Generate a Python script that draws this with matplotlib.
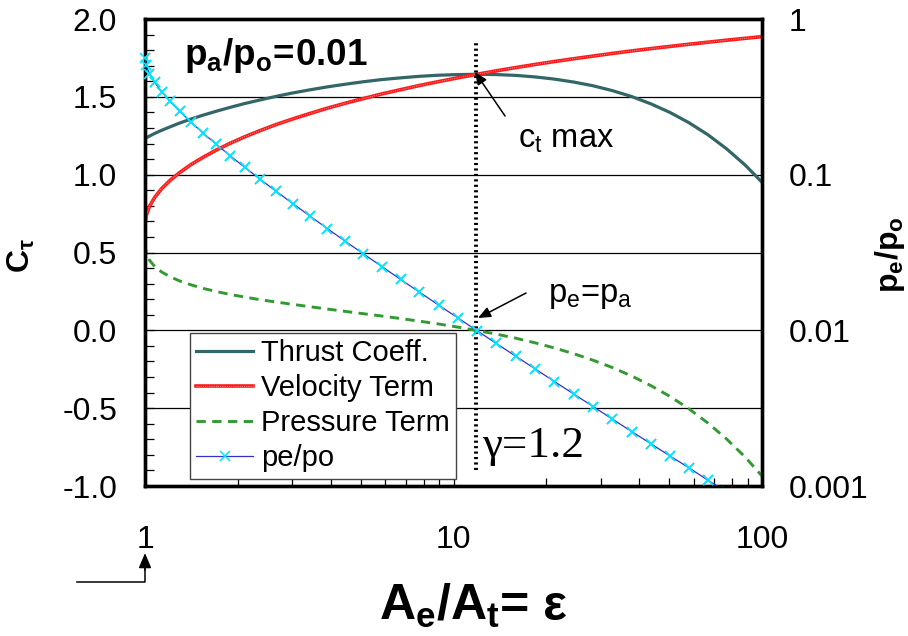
import numpy as np
import matplotlib
matplotlib.use("Agg")
import matplotlib.pyplot as plt
from matplotlib.ticker import MultipleLocator, LogLocator, NullLocator, FixedLocator, FixedFormatter, NullFormatter
from matplotlib.legend_handler import HandlerTuple
from matplotlib.lines import Line2D

plt.rcParams['font.family'] = ['Liberation Sans', 'DejaVu Sans']
plt.rcParams['mathtext.fontset'] = 'custom'
plt.rcParams['mathtext.rm'] = 'Liberation Sans'
plt.rcParams['mathtext.it'] = 'Liberation Sans:italic'
plt.rcParams['mathtext.bf'] = 'Liberation Sans:bold'

# Nozzle expansion ratio and the resulting terms (gamma = 1.2, pa/po = 0.01)
area_ratio = [1.000, 1.009, 1.034, 1.075, 1.132, 1.205, 1.296, 1.407, 1.540, 1.698,
              1.884, 2.103, 2.359, 2.660, 3.011, 3.421, 3.898, 4.455, 5.104, 5.858,
              6.735, 7.756, 8.941, 10.32, 11.91, 13.76, 15.90, 18.38, 21.24, 24.54,
              28.36, 32.74, 37.80, 43.63, 50.30, 57.96, 66.74, 76.79, 88.29, 101.4]

pe_po = [0.5645, 0.5039, 0.4461, 0.3918, 0.3417, 0.2959, 0.2547, 0.2180, 0.1856, 0.1573,
         0.1328, 0.1117, 0.0936, 0.0783, 0.0653, 0.0543, 0.0451, 0.0374, 0.0310, 0.0257,
         0.02126, 0.01759, 0.01455, 0.01204, 0.00996, 0.00824, 0.00683, 0.00566, 0.00469, 0.00390,
         0.00324, 0.00269, 0.00224, 0.00187, 0.00156, 0.00131, 0.00109, 0.00092, 0.00077, 0.00065]

velocity_term = [0.677, 0.738, 0.797, 0.854, 0.910, 0.963, 1.014, 1.064, 1.111, 1.157,
                 1.201, 1.243, 1.283, 1.322, 1.358, 1.393, 1.427, 1.459, 1.489, 1.519,
                 1.546, 1.573, 1.598, 1.622, 1.645, 1.667, 1.688, 1.708, 1.727, 1.745,
                 1.762, 1.779, 1.795, 1.810, 1.824, 1.838, 1.851, 1.864, 1.876, 1.888]

pressure_term = [0.555, 0.498, 0.451, 0.410, 0.375, 0.345, 0.317, 0.293, 0.270, 0.250,
                 0.231, 0.214, 0.197, 0.182, 0.167, 0.152, 0.137, 0.122, 0.107, 0.092,
                 0.076, 0.059, 0.041, 0.021, -0.001, -0.024, -0.050, -0.080, -0.113, -0.150,
                 -0.192, -0.239, -0.293, -0.355, -0.424, -0.504, -0.595, -0.698, -0.815, -0.949]

thrust_coeff = [1.232, 1.236, 1.248, 1.265, 1.285, 1.307, 1.332, 1.357, 1.382, 1.407,
                1.432, 1.457, 1.480, 1.503, 1.525, 1.545, 1.564, 1.581, 1.597, 1.611,
                1.622, 1.632, 1.639, 1.643, 1.645, 1.643, 1.638, 1.628, 1.614, 1.595,
                1.571, 1.540, 1.502, 1.455, 1.400, 1.334, 1.257, 1.166, 1.061, 0.939]

eps_optimum = 11.8
x_ticks = [1, 10, 100]
x_tick_labels = ['1', '10', '100']
ct_ticks = [-1.0, -0.5, 0.0, 0.5, 1.0, 1.5, 2.0]
ct_tick_labels = ['-1.0', '-0.5', '0.0', '0.5', '1.0', '1.5', '2.0']
pr_ticks = [0.001, 0.01, 0.1, 1]
pr_tick_labels = ['0.001', '0.01', '0.1', '1']

fig = plt.figure(figsize=(9.08, 6.36), dpi=100)
ax = fig.add_axes([0.1597, 0.2358, 0.6795, 0.7343])
ax2 = ax.twinx()

# primary axis: C_tau terms
ax.set_xscale('log')
ax.set_xlim(1, 100)
ax.set_ylim(-1.0, 2.0)
ax.set_yticks(ct_ticks)
ax.set_yticklabels(ct_tick_labels)
ax.yaxis.set_minor_locator(MultipleLocator(0.1))
ax.set_xticks(x_ticks)
ax.set_xticklabels(x_tick_labels)
ax.xaxis.set_minor_locator(LogLocator(base=10, subs=np.arange(2, 10)))
ax.xaxis.set_minor_formatter(NullFormatter())
ax.tick_params(axis='y', which='both', direction='in', length=6.5, width=0.9,
               labelsize=23, pad=20, right=False)
ax.tick_params(axis='x', which='both', direction='in', length=5.5, width=0.9,
               labelsize=23, pad=28, top=False)
for y in [-0.5, 0.0, 0.5, 1.0, 1.5]:
    ax.axhline(y, color='black', lw=0.9, zorder=1)

l_thrust, = ax.plot(area_ratio, thrust_coeff, color='#336666', lw=2.3, zorder=3)
l_vel, = ax.plot(area_ratio, velocity_term, color='#ff1a1a', lw=2.6, zorder=3)
l_vel_tex, = ax.plot(area_ratio, velocity_term, color='#ffb3b3', lw=0.6,
                     linestyle=(0, (1, 1.6)), zorder=3)
l_press, = ax.plot(area_ratio, pressure_term, color='#339933', lw=2.1,
                   linestyle=(0, (3.2, 2.2)), zorder=3)

ax.axvline(eps_optimum, ymin=0.034, ymax=0.953, color='black', lw=2.8,
           linestyle=(0, (0.55, 0.85)), zorder=4)

# secondary axis: exit pressure ratio
ax2.set_yscale('log')
ax2.set_ylim(0.001, 1)
ax2.yaxis.set_major_locator(FixedLocator(pr_ticks))
ax2.yaxis.set_major_formatter(FixedFormatter(pr_tick_labels))
ax2.yaxis.set_minor_locator(NullLocator())
ax2.tick_params(axis='y', which='both', length=0, labelsize=23, pad=19)

l_pe, = ax2.plot(area_ratio, pe_po, color='#3333cc', lw=0.9, marker='x',
                 markersize=7, markeredgecolor='#00e5ff', markeredgewidth=1.1, zorder=5)
pe_arr = np.array(pe_po)
ar_arr = np.array(area_ratio)
inside = pe_arr >= 0.001
ax2.plot(ar_arr[inside], pe_arr[inside], linestyle='none', marker='x', markersize=7,
         markeredgecolor='#00e5ff', markeredgewidth=1.1, clip_on=False, zorder=5)

for a in (ax, ax2):
    for s in a.spines.values():
        s.set_linewidth(2.4)


def ct_to_pr(c):
    # map a C_tau value on the left scale to the log scale on the right
    return 10 ** (-3 + (c + 1.0))


# annotations
ax2.text(1.338, ct_to_pr(1.7045), r'$\mathbf{p_a/p_o\!=\!0.01}$',
         fontsize=26.5, ha='left', va='baseline', zorder=6)
ax2.text(16.18, ct_to_pr(1.171), r'c$_\mathregular{t}$ max', fontsize=23.5,
         ha='left', va='baseline', zorder=6)
ax2.text(20.25, ct_to_pr(0.182), r'p$_\mathregular{e}$=p$_\mathregular{a}$', fontsize=23.5,
         ha='left', va='baseline', zorder=6)
ax2.text(12.37, ct_to_pr(-0.8137), 'γ=1.2', fontsize=32.5, family='Liberation Serif',
         ha='left', va='baseline', zorder=6)

arrow_kw = dict(arrowstyle='-|>,head_length=0.75,head_width=0.32', color='black', lw=1.1,
                shrinkA=0, shrinkB=0)
ax2.annotate('', xy=(11.74, ct_to_pr(1.6595)), xytext=(14.69, ct_to_pr(1.377)),
             arrowprops=arrow_kw, zorder=6)
ax2.annotate('', xy=(12.01, ct_to_pr(0.0793)), xytext=(17.18, ct_to_pr(0.2399)),
             arrowprops=arrow_kw, zorder=6)

# pointer to the throat (area ratio 1) below the axis
ax2.add_line(Line2D([-0.110, 0.0, 0.0], [-0.2056, -0.2056, -0.17], transform=ax2.transAxes,
                    color='black', lw=1.1, clip_on=False))
ax2.annotate('', xy=(0.0, -0.1435), xycoords='axes fraction', xytext=(0.0, -0.18),
             textcoords='axes fraction',
             arrowprops=dict(arrowstyle='-|>,head_length=0.9,head_width=0.38', color='black',
                             lw=1.1, shrinkA=0, shrinkB=0),
             annotation_clip=False)

leg = ax2.legend([l_thrust, (l_vel, l_vel_tex), l_press, l_pe],
                 ['Thrust Coeff.', 'Velocity Term', 'Pressure Term', 'pe/po'],
                 handler_map={tuple: HandlerTuple(ndivide=1)},
                 loc='upper left', bbox_to_anchor=(0.073, 0.3276), borderaxespad=0,
                 fontsize=21, handlelength=1.95, handletextpad=0.25, borderpad=0.22,
                 labelspacing=0.24, fancybox=False, framealpha=1, edgecolor='#444444')
leg.get_frame().set_linewidth(1.0)
leg.set_zorder(10)

# axis titles
fig.text(0.0237, 0.599, r'$\mathbf{C_{\tau}}$', fontsize=23, rotation=90,
         ha='center', va='center')
fig.text(0.980, 0.599, r'$\mathbf{p_e/p_o}$', fontsize=23, rotation=90,
         ha='center', va='center')
fig.text(0.551, 0.0252, r'$\mathbf{A_e/A_t}$', fontsize=36, ha='right', va='baseline')
fig.text(0.551, 0.0252, '= ε', fontsize=36, fontweight='bold', ha='left', va='baseline')

fig.savefig('out.png', dpi=100)
